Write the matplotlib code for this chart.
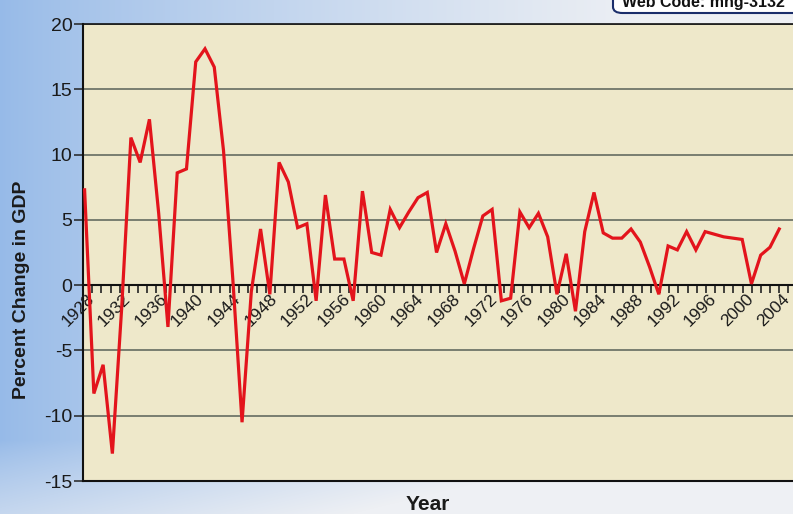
import numpy as np
import matplotlib
matplotlib.use("Agg")
import matplotlib.pyplot as plt
from matplotlib.patches import FancyBboxPatch
from matplotlib.transforms import offset_copy

# ---------------- data ----------------
years = list(range(1929, 2005))
growth = [7.3, -8.3, -6.1, -12.9, -1.8, 11.3, 9.4, 12.7, 5.5, -3.2,
          8.6, 8.9, 17.1, 18.1, 16.7, 10.3, 0.5, -10.5, -0.5, 4.3,
          -0.7, 9.4, 7.9, 4.4, 4.7, -1.2, 6.9, 2.0, 2.0, -1.2,
          7.2, 2.5, 2.3, 5.8, 4.4, 5.6, 6.7, 7.1, 2.5, 4.7,
          2.6, 0.1, 2.8, 5.3, 5.8, -1.2, -1.0, 5.6, 4.4, 5.5,
          3.7, -0.7, 2.4, -2.0, 4.1, 7.1, 4.0, 3.6, 3.6, 4.3,
          3.3, 1.4, -0.7, 3.0, 2.7, 4.1, 2.7, 4.1, 3.9, 3.7,
          3.6, 3.5, 0.1, 2.3, 2.9, 4.3]
tick_years = list(range(1928, 2006))
label_years = list(range(1928, 2005, 4))
y_ticks = [-15, -10, -5, 0, 5, 10, 15, 20]
y_label = "Percent Change in GDP"
x_label = "Year"
web_code = "Web Code: mng-3132"

# ---------------- layout ----------------
W, H = 793, 514
fig = plt.figure(figsize=(W / 100, H / 100), dpi=100)

# background gradient
xx, yy = np.meshgrid(np.arange(W), np.arange(H))
f = np.clip(xx / 650.0 + np.clip((yy - 440) / 80.0, 0, 1) * 0.5, 0, 1) ** 0.8
blue = np.array([150, 186, 232]) / 255.0
white = np.array([238, 240, 244]) / 255.0
img = blue[None, None, :] + (white - blue)[None, None, :] * f[..., None]
bg = fig.add_axes([0, 0, 1, 1], zorder=-10)
bg.imshow(img, aspect="auto", extent=[0, W, H, 0])
bg.set_axis_off()

fam = "Liberation Sans"

ax = fig.add_axes([83 / W, (H - 481) / H, (W - 83) / W, (481 - 24) / H])
ax.set_facecolor("#EEE8CA")

# mapping between chart tick years and data positions
def tick_pos(t):
    return 1929 + (9.16 * (t - 1928) - 1.5) / 9.263

ax.plot(years, growth, color="#E3141C", lw=2.3, zorder=6, solid_joinstyle="miter",
        clip_on=False)

ax.set_xlim(tick_pos(1928) - 0.01, 1929 + (793 - 84.5) / 9.263)
ax.set_ylim(-15, 20)

ax.set_yticks(y_ticks)
ax.set_yticklabels([str(v) for v in y_ticks])
ax.grid(axis="y", color="#6F7569", lw=1.3, zorder=1)
ax.set_axisbelow(True)

major = [tick_pos(t) for t in label_years]
minor = [tick_pos(t) for t in tick_years if t not in label_years]
ax.set_xticks(major)
ax.set_xticklabels([""] * len(major))
ax.set_xticks(minor, minor=True)
ax.tick_params(axis="x", which="both", direction="out", length=6, width=1.2,
               color="#222222", pad=0)
ax.tick_params(axis="y", direction="out", length=6.5, width=1.1, color="#222222",
               pad=1, labelsize=14, labelfontfamily=fam, labelcolor="#1a1a1a")

# rotated year labels, anchored at their top-right corner under each tick
lab_tr = offset_copy(ax.transData, fig=fig, x=3, y=-6, units="dots")
for t, xpos in zip(label_years, major):
    ax.text(xpos, 0, str(t), transform=lab_tr, rotation=45, rotation_mode="anchor",
            ha="right", va="top", family=fam, fontsize=12.5, color="#1a1a1a",
            zorder=4, clip_on=False)

ax.spines["bottom"].set_position(("data", 0))
ax.spines["bottom"].set_linewidth(1.5)
ax.spines["bottom"].set_color("#111111")
ax.spines["left"].set_linewidth(1.5)
ax.spines["left"].set_color("#111111")
ax.spines["top"].set_linewidth(1.2)
ax.spines["top"].set_color("#111111")
ax.spines["right"].set_visible(False)
ax.axhline(-15, color="#111111", lw=1.5, clip_on=False, zorder=3)

fig.text(22 / W, 1 - 290 / H, y_label, rotation=90, ha="center", va="center",
         family=fam, fontsize=14, fontweight="bold", color="#1a1a1a")
fig.text(428 / W, 1 - 495 / H, x_label, ha="center", va="top",
         family=fam, fontsize=15, fontweight="bold", color="#1a1a1a")

# web code box (cropped at top, as in the reference)
box = FancyBboxPatch((613 / W, 1 - 13 / H), 200 / W, 30 / H,
                     boxstyle="round,pad=0,rounding_size=0.012",
                     transform=fig.transFigure, facecolor="white",
                     edgecolor="#1B2E6B", lw=1.5, zorder=20)
fig.patches.append(box)
fig.text(703 / W, 1 - 3 / H, web_code, ha="center", va="center",
         family=fam, fontsize=11.5, fontweight="bold", color="#111111", zorder=21)

fig.savefig("out.png", dpi=100)
